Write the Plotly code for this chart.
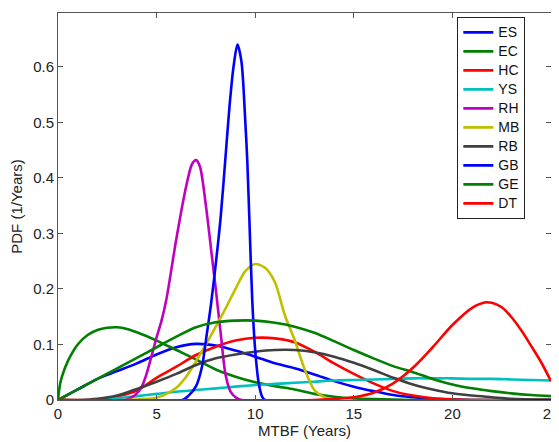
import plotly.graph_objects as go

# ---- data ----
names = ["ES", "EC", "HC", "YS", "RH", "MB", "RB", "GB", "GE", "DT"]
colors = ["#0000FF", "#007F00", "#FF0000", "#00BFBF", "#BF00BF",
          "#BFBF00", "#404040", "#0000FF", "#007F00", "#FF0000"]

es_x = [0, 1, 2, 3, 4, 5, 6, 7, 8, 9, 10, 11, 12, 13, 14, 15, 16, 17, 18, 19, 20, 21, 25]
es_y = [0, 0.019, 0.038, 0.052, 0.066, 0.082, 0.095, 0.101, 0.098, 0.089, 0.078, 0.066,
        0.057, 0.046, 0.034, 0.024, 0.016, 0.009, 0.005, 0.002, 0.001, 0, 0]

ec_x = [0, 0.1, 0.2, 0.5, 1, 1.5, 2, 2.5, 3, 3.5, 4, 5, 6, 7, 8, 9, 10, 11, 12, 13, 14,
        15, 16, 18, 25]
ec_y = [0, 0.028, 0.042, 0.07, 0.1, 0.117, 0.126, 0.13, 0.131, 0.128, 0.122, 0.107, 0.09,
        0.073, 0.055, 0.042, 0.032, 0.025, 0.019, 0.011, 0.006, 0.003, 0.0015, 0, 0]

hc_x = [0, 2, 2.5, 3, 4, 5, 6, 7, 8, 9, 10, 11, 12, 13, 14, 15, 16, 17, 18, 19, 20, 21, 25]
hc_y = [0, 0, 0.002, 0.006, 0.017, 0.04, 0.06, 0.081, 0.096, 0.107, 0.112, 0.111, 0.104,
        0.087, 0.066, 0.047, 0.03, 0.016, 0.008, 0.003, 0.001, 0, 0]

ys_x = [0, 2, 3, 4, 5, 6, 7, 8, 9, 10, 11, 12, 13, 14, 15, 16, 17, 18, 19, 20, 21, 22,
        23, 24, 25]
ys_y = [0, 0, 0.003, 0.007, 0.011, 0.015, 0.018, 0.021, 0.024, 0.027, 0.029, 0.031, 0.033,
        0.035, 0.036, 0.037, 0.038, 0.039, 0.039, 0.039, 0.038, 0.038, 0.037, 0.036, 0.035]

rh_x = [0, 3.4, 3.75, 4.0, 4.25, 4.5, 4.75, 5.0, 5.25, 5.5, 6.0, 6.5, 6.8, 7.0, 7.2, 7.5,
        7.8, 8.0, 8.25, 8.5, 8.75, 9.0, 9.3, 25]
rh_y = [0, 0, 0.005, 0.012, 0.024, 0.048, 0.08, 0.113, 0.143, 0.182, 0.29, 0.385, 0.425,
        0.432, 0.42, 0.35, 0.26, 0.2, 0.12, 0.045, 0.015, 0.005, 0, 0]

mb_x = [0, 3.5, 4.5, 5.0, 5.5, 6.0, 6.5, 7.0, 7.5, 8.0, 8.5, 9.0, 9.5, 10.0, 10.5, 11.0,
        11.5, 12.0, 12.5, 13.0, 13.5, 14.0, 25]
mb_y = [0, 0, 0.002, 0.004, 0.011, 0.022, 0.042, 0.07, 0.1, 0.132, 0.165, 0.2, 0.232,
        0.245, 0.238, 0.212, 0.153, 0.108, 0.056, 0.018, 0.005, 0, 0]

rb_x = [0, 1, 2, 3, 4, 5, 6, 7, 8, 9, 10, 11, 12, 13, 14, 15, 16, 17, 18, 19, 20, 21,
        22, 23, 24, 25]
rb_y = [0, 0, 0.002, 0.008, 0.02, 0.033, 0.047, 0.063, 0.075, 0.082, 0.087, 0.09, 0.09,
        0.086, 0.078, 0.067, 0.054, 0.04, 0.028, 0.019, 0.012, 0.008, 0.005, 0.002,
        0.001, 0]

gb_x = [0, 6.3, 6.6, 7.0, 7.3, 7.55, 7.75, 8.0, 8.25, 8.5, 8.7, 8.9, 9.1, 9.3, 9.5, 9.6,
        9.7, 9.85, 10.0, 10.18, 10.35, 10.5, 25]
gb_y = [0, 0, 0.007, 0.025, 0.06, 0.12, 0.17, 0.245, 0.33, 0.44, 0.53, 0.6, 0.64, 0.61,
        0.5, 0.43, 0.33, 0.18, 0.09, 0.03, 0.006, 0, 0]

ge_x = [0, 1, 2, 3, 4, 5, 6, 7, 8, 9, 10, 11, 12, 13, 14, 15, 16, 17, 18, 19, 20, 21,
        22, 23, 24, 25]
ge_y = [0, 0.019, 0.038, 0.057, 0.076, 0.095, 0.114, 0.131, 0.14, 0.143, 0.143, 0.139,
        0.132, 0.121, 0.106, 0.09, 0.075, 0.061, 0.05, 0.038, 0.028, 0.021, 0.016,
        0.012, 0.009, 0.007]

dt_x = [0, 13, 14, 15, 16, 17, 18, 19, 20, 21, 21.7, 22, 22.5, 23, 23.5, 24, 24.5, 25]
dt_y = [0, 0, 0.002, 0.005, 0.013, 0.03, 0.058, 0.095, 0.135, 0.166, 0.176, 0.175,
        0.167, 0.149, 0.125, 0.097, 0.068, 0.034]

series_x = [es_x, ec_x, hc_x, ys_x, rh_x, mb_x, rb_x, gb_x, ge_x, dt_x]
series_y = [es_y, ec_y, hc_y, ys_y, rh_y, mb_y, rb_y, gb_y, ge_y, dt_y]

x_ticks = [0, 5, 10, 15, 20, 25]
y_ticks = [0, 0.1, 0.2, 0.3, 0.4, 0.5, 0.6]
y_tick_text = ["0", "0.1", "0.2", "0.3", "0.4", "0.5", "0.6"]
x_title = "MTBF (Years)"
y_title = "PDF (1/Years)"

FONT = "Liberation Sans, Arial"

fig = go.Figure()
for n, c, xs, ys in zip(names, colors, series_x, series_y):
    fig.add_trace(go.Scatter(x=xs, y=ys, name="<span style='font-size:14px'>" + n + "</span>",
                             mode="lines",
                             line=dict(color=c, width=2.6, shape="spline", smoothing=0.8)))

axis_common = dict(showgrid=False, zeroline=False, showline=True, linecolor="#555",
                   linewidth=1, mirror="ticks", ticks="inside", ticklen=5,
                   tickcolor="#555", automargin=False, ticklabeloverflow="allow",
                   tickfont=dict(family=FONT, size=15, color="#222"))
fig.update_xaxes(range=[0, 25], tickvals=x_ticks, ticktext=[str(v) for v in x_ticks],
                 title=dict(text=x_title, font=dict(family=FONT, size=15, color="#222"),
                            standoff=2),
                 **axis_common)
fig.update_yaxes(range=[0, 0.697], tickvals=y_ticks, ticktext=y_tick_text,
                 title=dict(text=y_title, font=dict(family=FONT, size=15, color="#222"),
                            standoff=6),
                 **axis_common)
# the page body adds an 8 px margin, so the figure is 8 px smaller than the window
fig.update_layout(
    width=551, height=434,
    margin=dict(l=50, r=8, t=5, b=42),
    paper_bgcolor="white", plot_bgcolor="white",
    legend=dict(x=0.81, y=0.99, xanchor="left", yanchor="top",
                bgcolor="white", bordercolor="#222", borderwidth=1,
                font=dict(family=FONT, size=12, color="#111"),
                tracegroupgap=0, itemwidth=30),
    showlegend=True,
)
fig.write_html("out.html")
